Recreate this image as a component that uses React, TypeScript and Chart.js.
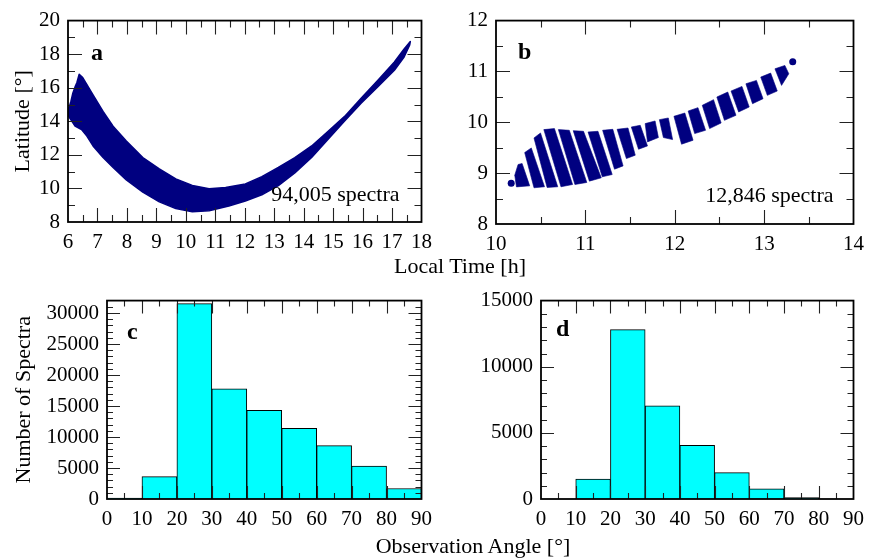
import React, { useEffect, useRef } from 'react';
import { Chart, registerables } from 'chart.js';

Chart.register(...registerables);

const SERIF = "'Liberation Serif', 'Times New Roman', Times, serif";
const NAVY = '#000080';
const CYAN = '#00FFFF';

// ---------- Panel a: Latitude vs Local Time (94,005 spectra) ----------
const aTimeTicks = [6, 7, 8, 9, 10, 11, 12, 13, 14, 15, 16, 17, 18];
const aLatTicks = [8, 10, 12, 14, 16, 18, 20];
const aUpperTime = [6.0, 6.05, 6.1, 6.16, 6.24, 6.3, 6.38, 6.5, 6.85, 7.19, 7.53, 7.98, 8.54, 9.1, 9.66, 10.22, 10.79, 11.35, 12.02, 12.58, 13.14, 13.7, 14.27, 14.83, 15.39, 15.95, 16.52, 17.08, 17.41, 17.62];
const aUpperLat = [14.75, 14.9, 15.2, 15.65, 16.05, 16.3, 16.8, 16.6, 15.57, 14.59, 13.71, 12.82, 11.84, 11.16, 10.57, 10.18, 9.98, 10.05, 10.27, 10.7, 11.25, 11.84, 12.53, 13.41, 14.29, 15.37, 16.45, 17.53, 18.31, 18.75];
const aLowerTime = [6.0, 6.24, 6.46, 6.64, 6.85, 7.19, 7.53, 7.98, 8.54, 9.1, 9.66, 10.22, 10.79, 11.46, 12.02, 12.58, 13.14, 13.7, 14.27, 14.83, 15.39, 15.95, 16.52, 17.08, 17.41, 17.6];
const aLowerLat = [14.35, 13.71, 13.51, 13.12, 12.53, 11.84, 11.25, 10.51, 9.78, 9.2, 8.8, 8.61, 8.67, 8.95, 9.25, 9.62, 10.17, 10.93, 11.85, 12.93, 14.02, 15.08, 16.06, 17.04, 17.83, 18.55];
const aCountLabel = '94,005 spectra';

// ---------- Panel b: Latitude vs Local Time (12,846 spectra) ----------
const bTimeTicks = [10, 11, 12, 13, 14];
const bLatTicks = [8, 9, 10, 11, 12];
const bStripeTime = [
  [10.247, 10.292, 10.377, 10.229, 10.21],
  [10.321, 10.395, 10.543, 10.425],
  [10.425, 10.498, 10.691, 10.572],
  [10.535, 10.654, 10.857, 10.727],
  [10.698, 10.82, 11.016, 10.883],
  [10.864, 10.979, 11.178, 11.045],
  [11.03, 11.141, 11.3, 11.189],
  [11.193, 11.307, 11.422, 11.326],
  [11.355, 11.477, 11.558, 11.459],
  [11.514, 11.614, 11.695, 11.595],
  [11.669, 11.78, 11.817, 11.695],
  [11.828, 11.928, 11.976, 11.873],
  [11.991, 12.113, 12.205, 12.076],
  [12.15, 12.26, 12.345, 12.223],
  [12.308, 12.434, 12.519, 12.39],
  [12.471, 12.593, 12.685, 12.556],
  [12.63, 12.752, 12.833, 12.715],
  [12.796, 12.914, 12.988, 12.87],
  [12.962, 13.073, 13.147, 13.036],
  [13.121, 13.232, 13.276, 13.195],
];
const bStripeLat = [
  [9.17, 9.19, 8.75, 8.73, 8.96],
  [9.405, 9.496, 8.732, 8.712],
  [9.692, 9.79, 8.732, 8.719],
  [9.856, 9.876, 8.777, 8.732],
  [9.856, 9.843, 8.817, 8.777],
  [9.836, 9.823, 8.908, 8.843],
  [9.81, 9.823, 8.973, 8.928],
  [9.843, 9.862, 9.143, 9.078],
  [9.862, 9.888, 9.353, 9.287],
  [9.908, 9.941, 9.536, 9.47],
  [9.974, 10.026, 9.7, 9.615],
  [10.052, 10.085, 9.66, 9.7],
  [10.118, 10.183, 9.647, 9.569],
  [10.222, 10.288, 9.843, 9.778],
  [10.334, 10.445, 9.987, 9.876],
  [10.497, 10.595, 10.137, 10.039],
  [10.615, 10.706, 10.301, 10.203],
  [10.758, 10.824, 10.464, 10.366],
  [10.889, 10.968, 10.615, 10.53],
  [11.052, 11.118, 10.954, 10.726],
];
const bDotTime = [10.17, 13.32];
const bDotLat = [8.8, 11.19];
const bCountLabel = '12,846 spectra';

// ---------- Panels c, d: histograms of observation angle ----------
const angleBinStart = [0, 10, 20, 30, 40, 50, 60, 70, 80];
const angleTicks = [0, 10, 20, 30, 40, 50, 60, 70, 80, 90];
const cCounts = [150, 3600, 31500, 17750, 14300, 11400, 8600, 5300, 1700];
const cCountTicks = [0, 5000, 10000, 15000, 20000, 25000, 30000];
const dCounts = [0, 1500, 12800, 7050, 4050, 2000, 760, 100, 0];
const dCountTicks = [0, 5000, 10000, 15000];

const frameTicks = {
  id: 'frameTicks',
  afterDatasetsDraw(chart: any, _args: any, opts: any) {
    const { ctx, chartArea } = chart;
    const { left, right, top, bottom } = chartArea;
    const xs = chart.scales.x;
    const ys = chart.scales.y;
    const steps = (min: number, max: number, step: number) => {
      const out: number[] = [];
      const n = Math.round((max - min) / step);
      for (let i = 1; i < n; i++) out.push(min + i * step);
      return out;
    };
    const isMul = (v: number, m: number) => Math.abs(v / m - Math.round(v / m)) < 1e-6;
    ctx.save();
    ctx.strokeStyle = '#222';
    ctx.lineWidth = 1.1;
    for (const v of steps(xs.min, xs.max, opts.xMinor)) {
      const len = isMul(v, opts.xMajor) ? opts.majorLen : opts.minorLen;
      const px = Math.round(xs.getPixelForValue(v)) + 0.5;
      ctx.beginPath();
      ctx.moveTo(px, bottom);
      ctx.lineTo(px, bottom - len);
      ctx.moveTo(px, top);
      ctx.lineTo(px, top + len);
      ctx.stroke();
    }
    for (const v of steps(ys.min, ys.max, opts.yMinor)) {
      const len = isMul(v, opts.yMajor) ? opts.majorLen : opts.minorLen;
      const py = Math.round(ys.getPixelForValue(v)) + 0.5;
      ctx.beginPath();
      ctx.moveTo(left, py);
      ctx.lineTo(left + len, py);
      ctx.moveTo(right, py);
      ctx.lineTo(right - len, py);
      ctx.stroke();
    }
    ctx.strokeStyle = '#000';
    ctx.lineWidth = 1.8;
    ctx.strokeRect(left, top, right - left, bottom - top);
    ctx.fillStyle = '#000';
    ctx.textBaseline = 'alphabetic';
    for (const t of opts.texts || []) {
      ctx.font = `${t.bold ? 'bold ' : ''}${t.size}px ${SERIF}`;
      ctx.textAlign = t.align;
      const x = t.anchor === 'br' ? right - t.dx : left + t.dx;
      const y = t.anchor === 'br' ? bottom - t.dy : top + t.dy;
      ctx.fillText(t.text, x, y);
    }
    ctx.restore();
  },
};

const tickFont = { family: SERIF, size: 21 };
const titleFont = { family: SERIF, size: 22 };

function xAxis(min: number, max: number, ticks: number[], height: number) {
  return {
    type: 'linear',
    min,
    max,
    offset: false,
    grid: { display: false, drawTicks: false },
    border: { display: false },
    afterBuildTicks: (s: any) => {
      s.ticks = ticks.map((v) => ({ value: v }));
    },
    afterFit: (s: any) => {
      s.height = height;
    },
    ticks: {
      font: tickFont,
      color: '#000',
      padding: 8,
      autoSkip: false,
      maxRotation: 0,
      minRotation: 0,
      callback: (v: any) => String(v),
    },
  };
}

function yAxis(min: number, max: number, ticks: number[], width: number, title?: string, titlePad = 10) {
  return {
    type: 'linear',
    min,
    max,
    grid: { display: false, drawTicks: false },
    border: { display: false },
    afterBuildTicks: (s: any) => {
      s.ticks = ticks.map((v) => ({ value: v }));
    },
    afterFit: (s: any) => {
      s.width = width;
    },
    ticks: {
      font: tickFont,
      color: '#000',
      padding: 8,
      autoSkip: false,
      callback: (v: any) => String(v),
    },
    title: title
      ? { display: true, text: title, font: titleFont, color: '#000', padding: { top: titlePad, bottom: 0 } }
      : { display: false },
  };
}

const basePlugins = (frame: any) => ({
  legend: { display: false },
  tooltip: { enabled: false },
  frameTicks: frame,
});

function buildA(): any {
  const upper = aUpperTime.map((t, i) => ({ x: t, y: aUpperLat[i] }));
  const lower = aLowerTime.map((t, i) => ({ x: t, y: aLowerLat[i] })).reverse();
  const poly = [...upper, ...lower, upper[0]];
  return {
    type: 'line',
    data: {
      datasets: [
        { data: poly, fill: 'shape', backgroundColor: NAVY, borderColor: NAVY, borderWidth: 1.5, borderJoinStyle: 'round', pointRadius: 0, tension: 0 },
      ],
    },
    options: {
      responsive: false,
      animation: false,
      events: [],
      layout: { padding: { top: 18, right: 16, left: 0, bottom: 0 } },
      scales: { x: xAxis(6, 18, aTimeTicks, 38), y: yAxis(8, 20, aLatTicks, 68, 'Latitude [°]', 10) },
      plugins: basePlugins({
        xMinor: 0.5, xMajor: 1, yMinor: 1, yMajor: 2, majorLen: 14, minorLen: 7,
        texts: [
          { text: 'a', bold: true, size: 24, align: 'left', dx: 23, dy: 39, anchor: 'tl' },
          { text: aCountLabel, bold: false, size: 22, align: 'right', dx: 22, dy: 21, anchor: 'br' },
        ],
      }),
    },
    plugins: [frameTicks],
  };
}

function buildB(): any {
  const stripes = bStripeTime.map((ts, k) => {
    const pts = ts.map((t, i) => ({ x: t, y: bStripeLat[k][i] }));
    return {
      data: [...pts, pts[0]],
      fill: 'shape',
      backgroundColor: NAVY,
      borderColor: NAVY,
      borderWidth: 0.6,
      borderJoinStyle: 'round',
      pointRadius: 0,
      tension: 0,
    };
  });
  const dots = {
    data: bDotTime.map((t, i) => ({ x: t, y: bDotLat[i] })),
    showLine: false,
    pointRadius: 3.5,
    pointBackgroundColor: NAVY,
    pointBorderColor: NAVY,
    pointBorderWidth: 0,
    fill: false,
  };
  return {
    type: 'line',
    data: { datasets: [...stripes, dots] },
    options: {
      responsive: false,
      animation: false,
      events: [],
      layout: { padding: { top: 20, right: 15, left: 0, bottom: 0 } },
      scales: { x: xAxis(10, 14, bTimeTicks, 38), y: yAxis(8, 12, bLatTicks, 56) },
      plugins: basePlugins({
        xMinor: 0.5, xMajor: 1, yMinor: 0.5, yMajor: 1, majorLen: 14, minorLen: 7,
        texts: [
          { text: 'b', bold: true, size: 24, align: 'left', dx: 22, dy: 38, anchor: 'tl' },
          { text: bCountLabel, bold: false, size: 22, align: 'right', dx: 20, dy: 22, anchor: 'br' },
        ],
      }),
    },
    plugins: [frameTicks],
  };
}

function buildHist(counts: number[], yMax: number, yTicks: number[], yWidth: number, padTop: number, padRight: number, letter: string, dx: number, dy: number, yTitle?: string): any {
  return {
    type: 'bar',
    data: {
      datasets: [
        {
          data: counts.map((c, i) => ({ x: angleBinStart[i] + 5, y: c > 0 ? c : null })),
          backgroundColor: CYAN,
          borderColor: '#000',
          borderWidth: 1,
          barPercentage: 1,
          categoryPercentage: 1,
          grouped: false,
        },
      ],
    },
    options: {
      responsive: false,
      animation: false,
      events: [],
      layout: { padding: { top: padTop, right: padRight, left: 0, bottom: 0 } },
      scales: {
        x: xAxis(0, 90, angleTicks, 38),
        y: yAxis(0, yMax, yTicks, yWidth, yTitle, 11),
      },
      plugins: basePlugins({
        xMinor: 5, xMajor: 10, yMinor: 1000, yMajor: 5000, majorLen: 13, minorLen: 6,
        texts: [{ text: letter, bold: true, size: 24, align: 'left', dx, dy, anchor: 'tl' }],
      }),
    },
    plugins: [frameTicks],
  };
}

function ChartBox(props: { left: number; top: number; width: number; height: number; build: () => any }) {
  const ref = useRef<HTMLCanvasElement>(null);
  useEffect(() => {
    const chart = new Chart(ref.current as HTMLCanvasElement, props.build());
    return () => chart.destroy();
  }, []);
  return (
    <canvas
      ref={ref}
      width={props.width}
      height={props.height}
      style={{ position: 'absolute', left: props.left, top: props.top, width: props.width, height: props.height }}
    />
  );
}

const labelStyle: React.CSSProperties = {
  position: 'absolute',
  width: 320,
  textAlign: 'center',
  fontFamily: SERIF,
  fontSize: 22,
  lineHeight: '22px',
  color: '#000',
  whiteSpace: 'nowrap',
};

export default function App() {
  return (
    <div style={{ position: 'absolute', left: 0, top: 0, width: 872, height: 560, background: '#fff', overflow: 'hidden' }}>
      <ChartBox left={0} top={0} width={440} height={260} build={buildA} />
      <ChartBox left={440} top={0} width={432} height={262} build={buildB} />
      <ChartBox
        left={0}
        top={280}
        width={440}
        height={257}
        build={() => buildHist(cCounts, 32000, cCountTicks, 107, 14, 17, 'c', 20, 38, 'Number of Spectra')}
      />
      <ChartBox
        left={440}
        top={280}
        width={432}
        height={257}
        build={() => buildHist(dCounts, 15000, dCountTicks, 101, 15, 14, 'd', 15, 35)}
      />
      <div style={{ ...labelStyle, left: 460 - 160, top: 255 }}>Local Time [h]</div>
      <div style={{ ...labelStyle, left: 473 - 160, top: 535 }}>Observation Angle [°]</div>
    </div>
  );
}
